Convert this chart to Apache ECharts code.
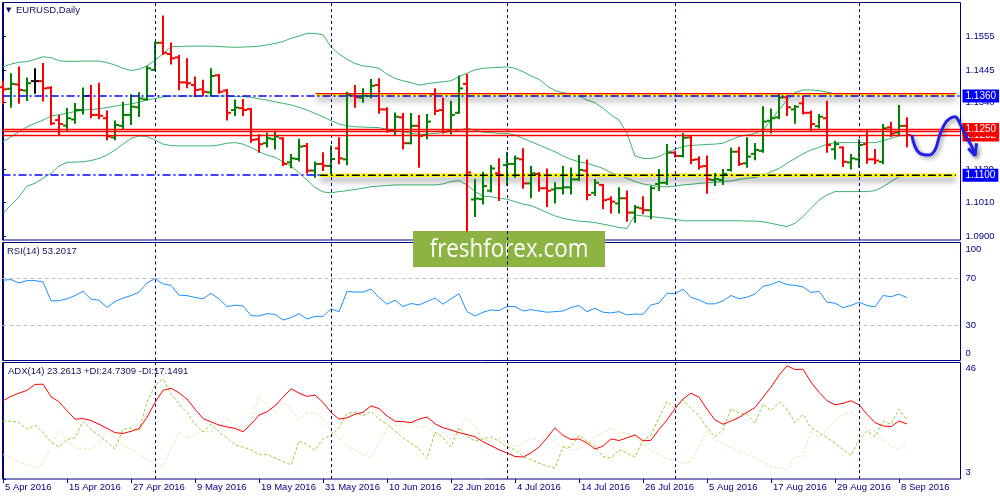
<!DOCTYPE html>
<html><head><meta charset="utf-8">
<script src="https://cdn.jsdelivr.net/npm/echarts@6/dist/echarts.min.js"></script>
<style>html,body{margin:0;padding:0;background:#fff}#c{width:1000px;height:500px}</style>
</head><body><div id="c"></div>
<script>
const FONT = '"Liberation Sans", Tahoma, Arial, sans-serif';
const NAVY = '#000080';

const tickLabels = ['5 Apr 2016','15 Apr 2016','27 Apr 2016','9 May 2016','19 May 2016','31 May 2016','10 Jun 2016','22 Jun 2016','4 Jul 2016','14 Jul 2016','26 Jul 2016','5 Aug 2016','17 Aug 2016','29 Aug 2016','8 Sep 2016'];
const tickPositions = [0,8,16,24,32,40,48,56,64,72,80,88,96,104,112];
const monthStarts = [19,41,63,84,107];
const priceTicks = [1.0900,1.1010,1.1120,1.1230,1.1340,1.1445,1.1555];
const rsiTicks = [0,30,70,100];
const rsiLevels = [30,70];
const adxTicks = [3,46];

const opens = [
1.1389,1.1384,1.1398,1.1378,1.1409,1.1409,1.1387,1.1281,1.1263,1.1283,
1.1314,1.1361,1.1298,1.1287,1.1224,1.1262,1.1298,1.1323,1.1349,1.1446,
1.1535,1.1498,1.1487,1.1405,1.1396,1.1382,1.1372,1.1428,1.1378,1.1314,
1.1320,1.1317,1.1218,1.1205,1.1218,1.1221,1.1142,1.1153,1.1196,1.1115,
1.1137,1.1130,1.1188,1.1152,1.1361,1.1355,1.1360,1.1396,1.1316,1.1248,
1.1290,1.1205,1.1262,1.1232,1.1366,1.1314,1.1248,1.1305,1.1400,1.1020,
1.1021,1.1049,1.1106,1.1133,1.1137,1.1152,1.1073,1.1104,1.1057,1.1053,
1.1057,1.1060,1.1086,1.1115,1.1042,1.1068,1.1021,1.1007,1.1024,1.0977,
1.0991,1.0985,1.1071,1.1075,1.1174,1.1163,1.1224,1.1152,1.1130,1.1084,
1.1084,1.1117,1.1177,1.1139,1.1170,1.1180,1.1279,1.1290,1.1356,1.1316,
1.1336,1.1305,1.1261,1.1287,1.1185,1.1191,1.1142,1.1152,1.1202,1.1152,
1.1144,1.1257,1.1240,1.1262];
const highs = [
1.1407,1.1432,1.1454,1.1418,1.1448,1.1465,1.1389,1.1294,1.1317,1.1334,
1.1385,1.1393,1.1400,1.1309,1.1276,1.1338,1.1363,1.1369,1.1456,1.1535,
1.1621,1.1533,1.1492,1.1481,1.1421,1.1410,1.1448,1.1429,1.1380,1.1345,
1.1347,1.1317,1.1232,1.1237,1.1243,1.1221,1.1166,1.1216,1.1202,1.1142,
1.1172,1.1194,1.1221,1.1371,1.1393,1.1382,1.1413,1.1415,1.1320,1.1303,
1.1301,1.1301,1.1294,1.1298,1.1382,1.1352,1.1341,1.1424,1.1429,1.1084,
1.1108,1.1130,1.1152,1.1174,1.1161,1.1185,1.1128,1.1106,1.1119,1.1073,
1.1128,1.1122,1.1163,1.1148,1.1084,1.1068,1.1027,1.1057,1.1046,1.0999,
1.1027,1.1062,1.1117,1.1199,1.1177,1.1235,1.1227,1.1159,1.1161,1.1104,
1.1117,1.1188,1.1190,1.1221,1.1202,1.1323,1.1316,1.1366,1.1358,1.1327,
1.1356,1.1309,1.1298,1.1341,1.1210,1.1191,1.1166,1.1215,1.1246,1.1183,
1.1265,1.1272,1.1327,1.1287];
const lows = [
1.1336,1.1325,1.1338,1.1347,1.1371,1.1345,1.1267,1.1232,1.1245,1.1272,
1.1303,1.1290,1.1287,1.1218,1.1218,1.1252,1.1268,1.1294,1.1349,1.1446,
1.1498,1.1467,1.1382,1.1389,1.1360,1.1363,1.1363,1.1371,1.1283,1.1298,
1.1298,1.1210,1.1177,1.1194,1.1188,1.1133,1.1126,1.1148,1.1108,1.1095,
1.1117,1.1106,1.1139,1.1136,1.1325,1.1341,1.1356,1.1305,1.1243,1.1232,
1.1188,1.1205,1.1128,1.1221,1.1301,1.1240,1.1237,1.1305,1.0918,1.0966,
1.1007,1.1046,1.1018,1.1068,1.1095,1.1059,1.1027,1.1049,1.0999,1.1010,
1.1040,1.1040,1.1084,1.1021,1.1035,1.0991,1.0977,1.0977,1.0950,1.0947,
1.0975,1.0958,1.1051,1.1071,1.1161,1.1161,1.1139,1.1122,1.1042,1.1068,
1.1071,1.1115,1.1133,1.1128,1.1152,1.1177,1.1240,1.1287,1.1298,1.1272,
1.1303,1.1246,1.1257,1.1177,1.1155,1.1130,1.1122,1.1128,1.1141,1.1139,
1.1139,1.1229,1.1232,1.1195];
const closes = [
1.1382,1.1400,1.1380,1.1402,1.1409,1.1385,1.1270,1.1268,1.1287,1.1314,
1.1360,1.1298,1.1295,1.1227,1.1265,1.1298,1.1325,1.1352,1.1451,1.1535,
1.1502,1.1484,1.1405,1.1402,1.1380,1.1374,1.1426,1.1374,1.1305,1.1322,
1.1314,1.1216,1.1202,1.1221,1.1227,1.1137,1.1155,1.1194,1.1115,1.1137,
1.1131,1.1153,1.1155,1.1363,1.1356,1.1361,1.1394,1.1316,1.1248,1.1292,
1.1205,1.1262,1.1229,1.1276,1.1311,1.1243,1.1298,1.1385,1.1109,1.1023,
1.1064,1.1122,1.1100,1.1137,1.1155,1.1073,1.1106,1.1057,1.1049,1.1057,
1.1060,1.1086,1.1117,1.1035,1.1075,1.1018,1.1013,1.1024,1.0977,1.0994,
1.0985,1.1057,1.1075,1.1174,1.1163,1.1223,1.1150,1.1128,1.1086,1.1087,
1.1104,1.1177,1.1137,1.1161,1.1183,1.1276,1.1287,1.1355,1.1323,1.1325,
1.1305,1.1268,1.1292,1.1199,1.1202,1.1144,1.1155,1.1199,1.1152,1.1148,
1.1254,1.1237,1.1262,1.1232];

const bbUpper = [
1.1456,1.1465,1.1471,1.1473,1.1481,1.1489,1.1486,1.1476,1.1474,1.1474,
1.1475,1.1475,1.1475,1.1470,1.1462,1.1451,1.1444,1.1448,1.1459,1.1478,
1.1498,1.1522,1.1523,1.1524,1.1524,1.1524,1.1524,1.1523,1.1521,1.1520,
1.1521,1.1522,1.1524,1.1528,1.1533,1.1539,1.1550,1.1557,1.1566,1.1566,
1.1561,1.1522,1.1498,1.1481,1.1467,1.1459,1.1456,1.1451,1.1432,1.1418,
1.1410,1.1404,1.1396,1.1400,1.1404,1.1407,1.1410,1.1424,1.1435,1.1446,
1.1451,1.1453,1.1454,1.1456,1.1451,1.1440,1.1426,1.1415,1.1393,1.1378,
1.1371,1.1366,1.1360,1.1347,1.1338,1.1320,1.1298,1.1281,1.1237,1.1163,
1.1155,1.1155,1.1161,1.1174,1.1185,1.1194,1.1198,1.1199,1.1201,1.1202,
1.1205,1.1216,1.1227,1.1232,1.1237,1.1248,1.1281,1.1314,1.1347,1.1371,
1.1380,1.1380,1.1378,1.1373,1.1367,1.1363,1.1363,1.1363,1.1363,1.1363,
1.1363,1.1363,1.1363,1.1363];
const bbMiddle = [
1.1210,1.1226,1.1243,1.1259,1.1270,1.1281,1.1294,1.1299,1.1303,1.1309,
1.1314,1.1316,1.1318,1.1322,1.1327,1.1331,1.1334,1.1340,1.1347,1.1352,
1.1357,1.1360,1.1360,1.1360,1.1360,1.1360,1.1360,1.1360,1.1360,1.1358,
1.1358,1.1356,1.1351,1.1347,1.1341,1.1336,1.1331,1.1323,1.1314,1.1303,
1.1292,1.1279,1.1268,1.1262,1.1259,1.1258,1.1257,1.1256,1.1251,1.1246,
1.1243,1.1237,1.1234,1.1235,1.1237,1.1240,1.1243,1.1248,1.1254,1.1248,
1.1241,1.1240,1.1237,1.1237,1.1232,1.1221,1.1210,1.1199,1.1188,1.1177,
1.1163,1.1152,1.1144,1.1139,1.1131,1.1122,1.1108,1.1100,1.1090,1.1079,
1.1071,1.1067,1.1062,1.1062,1.1064,1.1068,1.1070,1.1073,1.1075,1.1077,
1.1079,1.1081,1.1086,1.1090,1.1092,1.1100,1.1111,1.1122,1.1139,1.1155,
1.1170,1.1183,1.1191,1.1202,1.1207,1.1207,1.1207,1.1207,1.1207,1.1207,
1.1213,1.1221,1.1229,1.1232];
const bbLower = [
1.0974,1.1002,1.1029,1.1064,1.1073,1.1090,1.1106,1.1130,1.1142,1.1143,
1.1144,1.1148,1.1155,1.1166,1.1183,1.1202,1.1221,1.1229,1.1227,1.1216,
1.1202,1.1197,1.1196,1.1196,1.1196,1.1196,1.1196,1.1199,1.1205,1.1207,
1.1202,1.1191,1.1177,1.1166,1.1159,1.1144,1.1130,1.1108,1.1084,1.1060,
1.1045,1.1042,1.1046,1.1049,1.1053,1.1057,1.1062,1.1064,1.1066,1.1068,
1.1068,1.1068,1.1068,1.1068,1.1068,1.1071,1.1079,1.1082,1.1068,1.1046,
1.1031,1.1029,1.1024,1.1021,1.1013,1.1005,1.1000,1.0989,1.0977,1.0966,
1.0958,1.0953,1.0949,1.0947,1.0944,1.0939,1.0934,1.0928,1.0925,1.0969,
1.0966,1.0964,1.0961,1.0958,1.0955,1.0950,1.0950,1.0950,1.0950,1.0950,
1.0950,1.0950,1.0950,1.0949,1.0949,1.0947,1.0942,1.0936,1.0931,1.0942,
1.0964,1.0991,1.1018,1.1035,1.1046,1.1046,1.1046,1.1046,1.1046,1.1049,
1.1062,1.1079,1.1095,1.1100];

const rsi = [
68,68.6,65.7,67.7,67.7,66.6,50.6,50.6,52.3,55,
58.6,52,51,45,50,52.9,55,58,65.7,69.4,
64.9,63.7,55.4,55,53.4,52.3,56.9,52.3,45.7,46.9,
46.3,38,37.7,39.7,39.1,34.3,36.3,39.7,35.1,37.4,
37.4,43.7,41.4,58.6,58,58,60.6,53.4,47.7,51.1,
45.7,48.3,47.1,50,52.9,47.7,52.3,56.6,41.4,37.7,
40.9,42.9,42.3,45.7,45.7,42,43.1,42,40.9,41.4,
42,44.9,46.6,41.4,44.3,40.9,40.3,41.4,38.6,39.4,
39.1,47.1,48.6,57.1,56.6,60.6,53.4,51.4,48,48,
50.6,55.1,52.3,53.7,56.3,62.9,64.3,67.1,64.3,63.7,
62.3,57.7,58.6,49.4,48.6,44.9,46.6,49.4,46.6,45.4,
55.1,54,56.3,53.2];

const adx = [
31.9,33.5,34.7,35.7,37.9,38.0,33.4,31.5,28.2,25.1,
25.3,24.6,23.2,21.7,20.1,19.8,20.6,21.6,25.7,31.3,
35.7,36.5,34.8,32.5,28.8,25.3,24.1,22.9,22.2,21.7,
20.4,23.2,26.6,27.8,30.0,33.2,36.3,34.7,33.5,34.0,
31.3,27.6,25.1,25.6,26.9,27.6,30.0,29.0,26.3,24.3,
24.2,23.8,25.1,25.9,23.4,21.9,21.1,20.1,19.4,18.6,
16.7,15.3,13.8,12.6,11.3,11.1,12.6,14.8,18.2,21.9,
19.1,17.6,17.8,16.3,14.1,15.1,17.8,17.2,18.2,19.3,
17.1,17.3,21.3,24.8,29.0,32.5,34.7,33.2,28.8,24.8,
23.2,24.4,25.7,27.6,29.4,33.2,36.9,41.3,44.8,43.4,
43.5,38.8,35.0,31.9,30.4,30.9,31.9,30.4,26.9,23.8,
22.6,22.3,24.4,23.3];
const plusDI = [
24.4,24.4,23.8,21.3,22.8,20.3,16.6,14.8,17.6,18.2,
24.2,21.3,19.1,16.7,14.1,21.3,21.9,20.9,31.3,37.5,
40.0,34.4,30.7,27.6,23.2,20.3,23.2,20.3,18.2,15.5,
14.8,13.8,12.0,12.0,10.7,9.5,8.2,17.0,15.7,13.6,
17.8,19.1,21.9,27.2,27.6,26.3,27.9,25.1,23.2,20.7,
18.2,16.3,14.1,10.5,20.3,18.2,14.8,21.9,18.8,17.0,
17.8,18.6,17.0,14.8,13.8,11.3,10.1,8.8,7.8,7.0,
14.8,14.8,19.2,17.0,15.1,11.3,10.7,13.8,12.6,11.1,
17.3,19.1,25.7,31.5,28.8,32.3,29.0,26.3,21.9,18.6,
21.1,29.0,27.3,26.9,23.6,30.7,28.2,31.3,28.8,23.8,
26.9,21.9,20.1,18.2,16.1,13.8,11.6,17.6,20.7,18.6,
24.4,23.2,28.8,24.7];
const minusDI = [
12.0,10.7,9.5,8.2,7.0,8.8,15.1,21.3,17.0,14.5,
14.1,14.1,15.7,20.7,18.2,15.7,14.1,12.2,10.3,8.8,
7.8,14.5,20.1,18.2,19.4,20.7,20.3,22.6,25.1,23.2,
21.3,23.8,33.2,30.0,27.3,31.3,28.8,25.1,27.3,27.6,
25.1,20.7,18.2,15.3,13.6,12.0,10.7,16.3,21.9,22.8,
22.6,24.1,21.9,22.6,19.4,20.1,17.6,21.3,25.1,22.6,
17.6,17.0,18.2,16.3,14.8,16.1,18.2,17.0,19.4,16.6,
14.8,13.6,14.1,16.3,18.6,19.8,21.9,20.1,20.1,18.2,
15.7,13.8,12.0,10.3,10.1,8.6,9.5,15.1,20.7,17.6,
15.7,14.5,13.2,12.0,10.7,9.5,7.6,7.0,6.4,11.3,
11.3,20.7,18.2,21.3,24.4,26.9,27.6,25.1,21.3,20.7,
17.6,15.1,13.8,17.1];

const bandLevels = [1.1360, 1.1100];
const redLevels = [1.1250, 1.1243, 1.1232];
const bandStart = [39.1, 39.6];
const bandEnd = 119.1;
const bandEdgeRed = 1.1368;
const bandYellowTop = 1.1364;

const annotationX = [113.6,114.0,114.6,115.7,116.5,117.1,117.75,118.4,119.0,119.4,120.0,120.5,121.1,121.5];
const annotationY = [1.1232,1.1194,1.1172,1.1166,1.1183,1.1232,1.1270,1.1287,1.1292,1.1281,1.1248,1.1221,1.1194,1.1166];
const arrowX = [120.66,121.5,121.7];
const arrowY = [1.1188,1.1164,1.1205];

const XMIN = -0.0625, XMAX = 119.6875, XMAX_WIDE = 124.625;
const YMIN = 1.088691, YMAX = 1.166739;

const ohlcData = opens.map((o,i)=>[i,o,highs[i],lows[i],closes[i]]);
const pair = (arr)=>arr.map((v,i)=>[i,v]);

const txt = {color: NAVY, fontSize: 9.5, fontFamily: FONT};

function xAxis(gi, labels, max){
  return {
    type:'value', gridIndex:gi, min:XMIN, max:max||XMAX, show: gi!==3,
    axisLine:{show:false}, splitLine:{show:false},
    axisTick: labels ? {show:true, length:4, customValues: tickPositions, lineStyle:{color:NAVY}} : {show:false},
    axisLabel: labels ? Object.assign({show:true, customValues: tickPositions, align:'left', margin:3, padding:[0,0,0,2],
      formatter: v => tickLabels[tickPositions.indexOf(v)]}, txt) : {show:false}
  };
}
function yAxis(gi, min, max, ticks, fmt, rich){
  return {
    type:'value', gridIndex:gi, position:'right', min:min, max:max,
    axisLine:{show:true, lineStyle:{color:NAVY, width:1}},
    axisTick:{show:true, length:3, customValues: ticks, lineStyle:{color:NAVY}},
    splitLine:{show:false},
    axisLabel: Object.assign({show:true, customValues: ticks, margin:5, align:'left', formatter: fmt, rich: rich||{}}, txt)
  };
}
const monthLines = monthStarts.map(m => ({xAxis:m, lineStyle:{color:NAVY, type:[3,3], width:1}}));

function tag(value, text, bg){
  return {yAxis:value, lineStyle:{color:'rgba(0,0,0,0)', width:1},
    label:{show:true, position:'end', distance:2, formatter:text, color:'#ffffff', backgroundColor:bg,
      padding:[2,3,1,3], fontSize:10, fontFamily:FONT}};
}

const grids = [
  {left:2.5, width:958, top:2.5, height:237.5, show:true},
  {left:2.5, width:958, top:242.5, height:118, show:true},
  {left:2.5, width:958, top:362.5, height:116.5, show:true},
  {left:2.5, width:997.5, top:2.5, height:237.5, show:false}
].map(g => Object.assign(g, {borderColor:NAVY, borderWidth:1, backgroundColor:'transparent', containLabel:false, outerBoundsMode:'none'}));

const lineBase = {type:'line', symbol:'none', showSymbol:false, silent:true, animation:false};

const option = {
  animation:false,
  backgroundColor:'#ffffff',
  title:[
    {text:'{a|▼} EURUSD,Daily', left:6, top:5, padding:0,
      textStyle:{fontSize:9.5, fontWeight:'normal', color:'#101060', fontFamily:FONT, rich:{a:{fontSize:7, color:'#101060', fontFamily:'DejaVu Sans', padding:[0,2,0,0]}}}},
    {text:'RSI(14) 53.2017', left:7, top:246, padding:0, textStyle:{fontSize:9.5, fontWeight:'normal', color:'#101060', fontFamily:FONT}},
    {text:'ADX(14) 23.2613 +DI:24.7309 -DI:17.1491', left:8, top:366, padding:0, textStyle:{fontSize:9.5, fontWeight:'normal', color:'#101060', fontFamily:FONT}}
  ],
  grid: grids,
  xAxis:[xAxis(0,false), xAxis(1,false), xAxis(2,true), xAxis(3,false,XMAX_WIDE)],
  yAxis:[
    yAxis(0, YMIN, YMAX, priceTicks, v => v.toFixed(4)),
    yAxis(1, 0, 100, rsiTicks, v => v===100 ? '{t|100}' : (v===0 ? '{b|0}' : String(v)),
      {t:Object.assign({padding:[14,0,0,0]}, txt), b:Object.assign({padding:[0,0,15,0]}, txt)}),
    yAxis(2, 3, 46, adxTicks, v => v===46 ? '{t|46}' : '{b|3}',
      {t:Object.assign({padding:[12,0,0,0]}, txt), b:Object.assign({padding:[0,0,13,0]}, txt)}),
    {type:'value', gridIndex:3, min:YMIN, max:YMAX, show:false, splitLine:{show:false}}
  ],
  graphic:[{
    type:'group', left:413, top:231, z:100, silent:true,
    children:[
      {type:'rect', shape:{x:0, y:0, width:192, height:36}, style:{fill:'#8db443'}},
      {type:'text', x:96, y:18.5, scaleX:0.86, style:{text:'freshforex.com', fill:'#ffffff', fontSize:26, fontFamily:'"Open Sans", sans-serif', textAlign:'center', textVerticalAlign:'middle'}}
    ]
  }],
  series:[
    Object.assign({}, lineBase, {name:'upper', xAxisIndex:0, yAxisIndex:0, z:1, data:pair(bbUpper), lineStyle:{color:'#3cb371', width:1},
      markLine:{silent:true, symbol:['none','none'], label:{show:false}, animation:false, data: monthLines}}),
    Object.assign({}, lineBase, {name:'middle', xAxisIndex:0, yAxisIndex:0, z:1, data:pair(bbMiddle), lineStyle:{color:'#3cb371', width:1}}),
    Object.assign({}, lineBase, {name:'lower', xAxisIndex:0, yAxisIndex:0, z:1, data:pair(bbLower), lineStyle:{color:'#3cb371', width:1}}),
    Object.assign({}, lineBase, {name:'zoneHigh', xAxisIndex:0, yAxisIndex:0, z:2,
      data:[[bandStart[0], bandYellowTop],[bandEnd, bandYellowTop]],
      lineStyle:{color:'#ffff00', width:3, shadowColor:'rgba(0,0,0,0.45)', shadowBlur:6, shadowOffsetY:4}}),
    Object.assign({}, lineBase, {name:'zoneLow', xAxisIndex:0, yAxisIndex:0, z:2,
      data:[[bandStart[1], bandLevels[1]],[bandEnd, bandLevels[1]]],
      lineStyle:{color:'#ffff00', width:3.5, shadowColor:'rgba(0,0,0,0.45)', shadowBlur:6, shadowOffsetY:4}}),
    {
      type:'custom', name:'EURUSD', xAxisIndex:0, yAxisIndex:0, z:3, silent:true, animation:false,
      encode:{x:0, y:[1,2,3,4]},
      data: ohlcData,
      renderItem: function(params, api){
        const x = api.value(0), o = api.value(1), h = api.value(2), l = api.value(3), c = api.value(4);
        const pH = api.coord([x,h]), pL = api.coord([x,l]), pO = api.coord([x,o]), pC = api.coord([x,c]);
        const col = c > o ? '#008000' : (c < o ? '#ff0000' : '#000000');
        const st = {stroke:col, lineWidth:2, fill:null};
        const px = Math.round(pH[0]);
        return {type:'group', children:[
          {type:'line', shape:{x1:px, y1:pH[1]-1, x2:px, y2:pL[1]+1}, style:st},
          {type:'line', shape:{x1:px-4, y1:pO[1], x2:px, y2:pO[1]}, style:st},
          {type:'line', shape:{x1:px, y1:pC[1], x2:px+4, y2:pC[1]}, style:st}
        ]};
      }
    },
    Object.assign({}, lineBase, {name:'zoneHighEdge', xAxisIndex:0, yAxisIndex:0, z:4,
      data:[[bandStart[0], bandEdgeRed],[bandEnd, bandEdgeRed]], lineStyle:{color:'#ff0000', width:1.2}}),
    Object.assign({}, lineBase, {name:'zoneLowLine', xAxisIndex:0, yAxisIndex:0, z:4,
      data:[[bandStart[1], bandLevels[1]],[bandEnd, bandLevels[1]]], lineStyle:{color:'#000000', width:1.5, type:[8,3,2,3]},
      markLine:{silent:true, precision:4, symbol:['none','none'], label:{show:false}, animation:false, data:[
        {yAxis:bandLevels[0], lineStyle:{color:'#0000ff', width:1.5, type:[8,3,2,3]}},
        [{coord:[XMIN, bandLevels[1]], lineStyle:{color:'#0000ff', width:1.5, type:[8,3,2,3]}}, {coord:[bandStart[1], bandLevels[1]]}],
        {yAxis:redLevels[0], lineStyle:{color:'#ff0000', width:1.3, type:'solid'}},
        {yAxis:redLevels[1], lineStyle:{color:'#ff0000', width:1.3, type:'solid'}},
        {yAxis:redLevels[2], lineStyle:{color:'#ff0000', width:1.3, type:'solid'}},
        tag(bandLevels[0], '1.1360', '#0000ff'),
        tag(bandLevels[1], '1.1100', '#0000ff'),
        tag(redLevels[2], '1.1232', '#ff0000'),
        tag(redLevels[0], '1.1250', '#ff0000')
      ]}}),
    Object.assign({}, lineBase, {name:'forecast', xAxisIndex:3, yAxisIndex:3, z:6, clip:false, smooth:0.4,
      data: annotationX.map((x,i)=>[x, annotationY[i]]),
      lineStyle:{color:'#2020e8', width:3, shadowColor:'rgba(0,0,0,0.4)', shadowBlur:4, shadowOffsetX:2, shadowOffsetY:2}}),
    Object.assign({}, lineBase, {name:'arrow', xAxisIndex:3, yAxisIndex:3, z:6, clip:false,
      data: arrowX.map((x,i)=>[x, arrowY[i]]),
      lineStyle:{color:'#2020e8', width:3, shadowColor:'rgba(0,0,0,0.4)', shadowBlur:4, shadowOffsetX:2, shadowOffsetY:2}}),
    Object.assign({}, lineBase, {name:'RSI', xAxisIndex:1, yAxisIndex:1, z:3, data:pair(rsi), lineStyle:{color:'#1e90ff', width:1},
      markLine:{silent:true, symbol:['none','none'], label:{show:false}, animation:false,
        data: rsiLevels.map(v => ({yAxis:v, lineStyle:{color:'#c0c0c0', type:[4,3], width:1}})).concat(monthLines)}}),
    Object.assign({}, lineBase, {name:'-DI', xAxisIndex:2, yAxisIndex:2, z:2, data:pair(minusDI), lineStyle:{color:'#f5deb3', width:1, type:[3,2]}}),
    Object.assign({}, lineBase, {name:'+DI', xAxisIndex:2, yAxisIndex:2, z:3, data:pair(plusDI), lineStyle:{color:'#9acd32', width:1, type:[3,2]}}),
    Object.assign({}, lineBase, {name:'ADX', xAxisIndex:2, yAxisIndex:2, z:4, data:pair(adx), lineStyle:{color:'#ff0000', width:1},
      markLine:{silent:true, symbol:['none','none'], label:{show:false}, animation:false, data: monthLines}})
  ]
};

const chart = echarts.init(document.getElementById('c'), null, {renderer:'canvas'});
chart.setOption(option);
</script>
</body></html>
